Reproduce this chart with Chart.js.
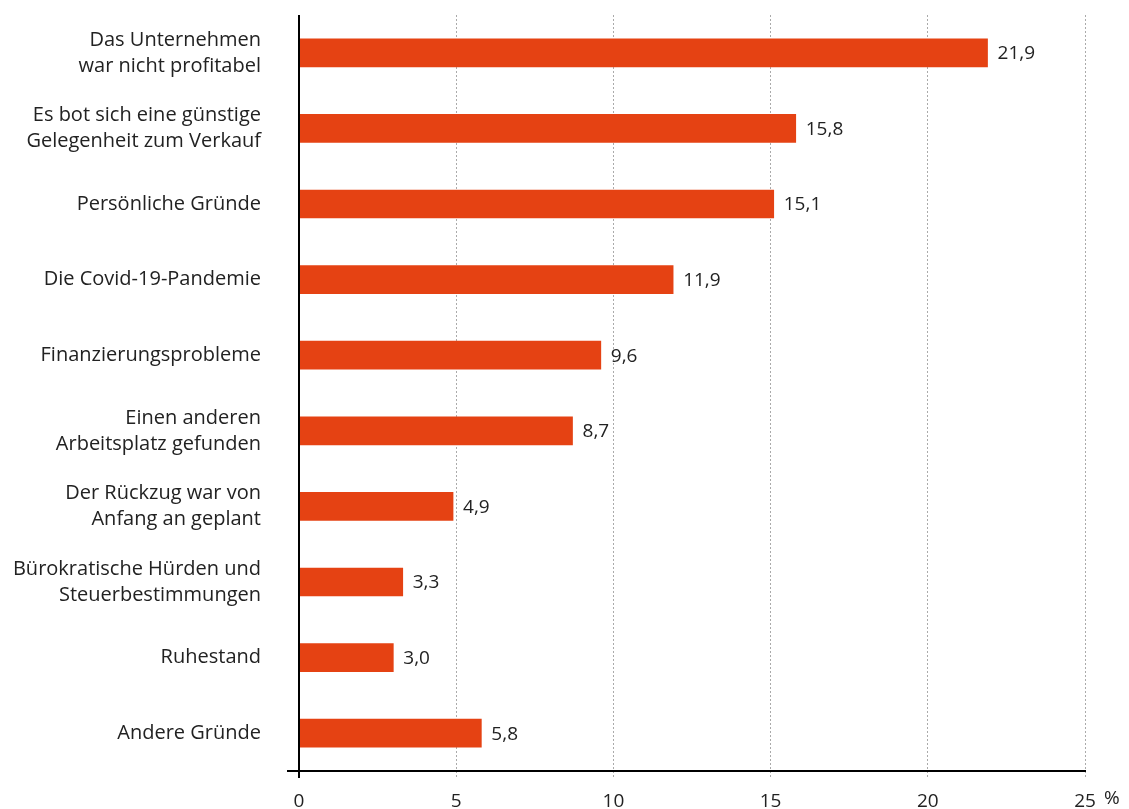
<!DOCTYPE html>
<html>
<head>
<meta charset="utf-8">
<script src="https://cdn.jsdelivr.net/npm/chart.js@4/dist/chart.umd.min.js"></script>
<style>
  body { margin: 0; background: #fff; }
  #wrap { width: 1129px; height: 809px; }
</style>
</head>
<body>
<div id="wrap"><canvas id="chart" width="1129" height="809"></canvas></div>
<script>
const categories = [
    ["Das Unternehmen", "war nicht profitabel"],
    ["Es bot sich eine günstige", "Gelegenheit zum Verkauf"],
    "Persönliche Gründe",
    "Die Covid-19-Pandemie",
    "Finanzierungsprobleme",
    ["Einen anderen", "Arbeitsplatz gefunden"],
    ["Der Rückzug war von", "Anfang an geplant"],
    ["Bürokratische Hürden und", "Steuerbestimmungen"],
    "Ruhestand",
    "Andere Gründe"
];
const shares = [21.9, 15.8, 15.1, 11.9, 9.6, 8.7, 4.9, 3.3, 3.0, 5.8];
const xTicks = [0, 5, 10, 15, 20, 25];

const fontFamily = "'Open Sans', sans-serif";
const textColor = "#222";

// value labels at the end of each bar, plus axis extras
const extras = {
    id: "extras",
    afterDatasetsDraw(chart) {
        const ctx = chart.ctx;
        const meta = chart.getDatasetMeta(0);
        ctx.save();
        ctx.font = "19px " + fontFamily;
        ctx.fillStyle = textColor;
        ctx.textAlign = "left";
        ctx.textBaseline = "middle";
        meta.data.forEach((bar, i) => {
            ctx.fillText(shares[i].toFixed(1).replace(".", ","), bar.x + 10, bar.y + 1);
        });
        ctx.restore();
    },
    afterDraw(chart) {
        const ctx = chart.ctx;
        const x = chart.scales.x;
        const area = chart.chartArea;
        const x0 = x.getPixelForValue(0);
        ctx.save();
        ctx.strokeStyle = "#000";
        ctx.lineWidth = 2;
        ctx.beginPath();
        ctx.moveTo(x0 - 12, area.bottom);
        ctx.lineTo(area.right + 1, area.bottom);
        ctx.moveTo(x0, area.top);
        ctx.lineTo(x0, area.bottom + 7);
        ctx.stroke();
        ctx.font = "19px " + fontFamily;
        ctx.fillStyle = textColor;
        ctx.textAlign = "left";
        ctx.textBaseline = "top";
        ctx.fillText("%", x.getPixelForValue(25) + 19, area.bottom + 18);
        ctx.restore();
    }
};

new Chart(document.getElementById("chart"), {
    type: "bar",
    data: {
        labels: categories,
        datasets: [{
            data: shares,
            backgroundColor: "#e54213",
            barThickness: 28
        }]
    },
    options: {
        indexAxis: "y",
        responsive: false,
        animation: false,
        layout: { padding: { top: 15, right: 44, left: 0, bottom: 0 } },
        plugins: {
            legend: { display: false },
            tooltip: { enabled: false }
        },
        scales: {
            x: {
                min: 0,
                max: 25,
                afterBuildTicks: (scale) => {
                    scale.ticks = xTicks.map(v => ({ value: v }));
                },
                afterFit: (scale) => {
                    scale.height = 38;
                    scale.paddingLeft = 0;
                    scale.paddingRight = 0;
                },
                grid: {
                    color: (c) => c.tick && c.tick.value === 0 ? "rgba(0,0,0,0)" : "#aaaaaa",
                    lineWidth: 1,
                    tickLength: 7,
                    tickColor: (c) => c.tick && c.tick.value === 0 ? "rgba(0,0,0,0)" : "#aaaaaa",
                    tickBorderDash: [2, 2]
                },
                border: { display: false, dash: [2, 2] },
                ticks: {
                    color: textColor,
                    padding: 12,
                    font: { family: fontFamily, size: 19 },
                    maxRotation: 0
                }
            },
            y: {
                afterFit: (scale) => {
                    scale.width = 299;
                    scale.paddingTop = 0;
                    scale.paddingBottom = 0;
                },
                grid: { display: false, drawTicks: false },
                border: { display: false },
                ticks: {
                    color: textColor,
                    padding: 38,
                    font: { family: fontFamily, size: 20, lineHeight: 1.3 }
                }
            }
        }
    },
    plugins: [extras]
});
</script>
</body>
</html>
